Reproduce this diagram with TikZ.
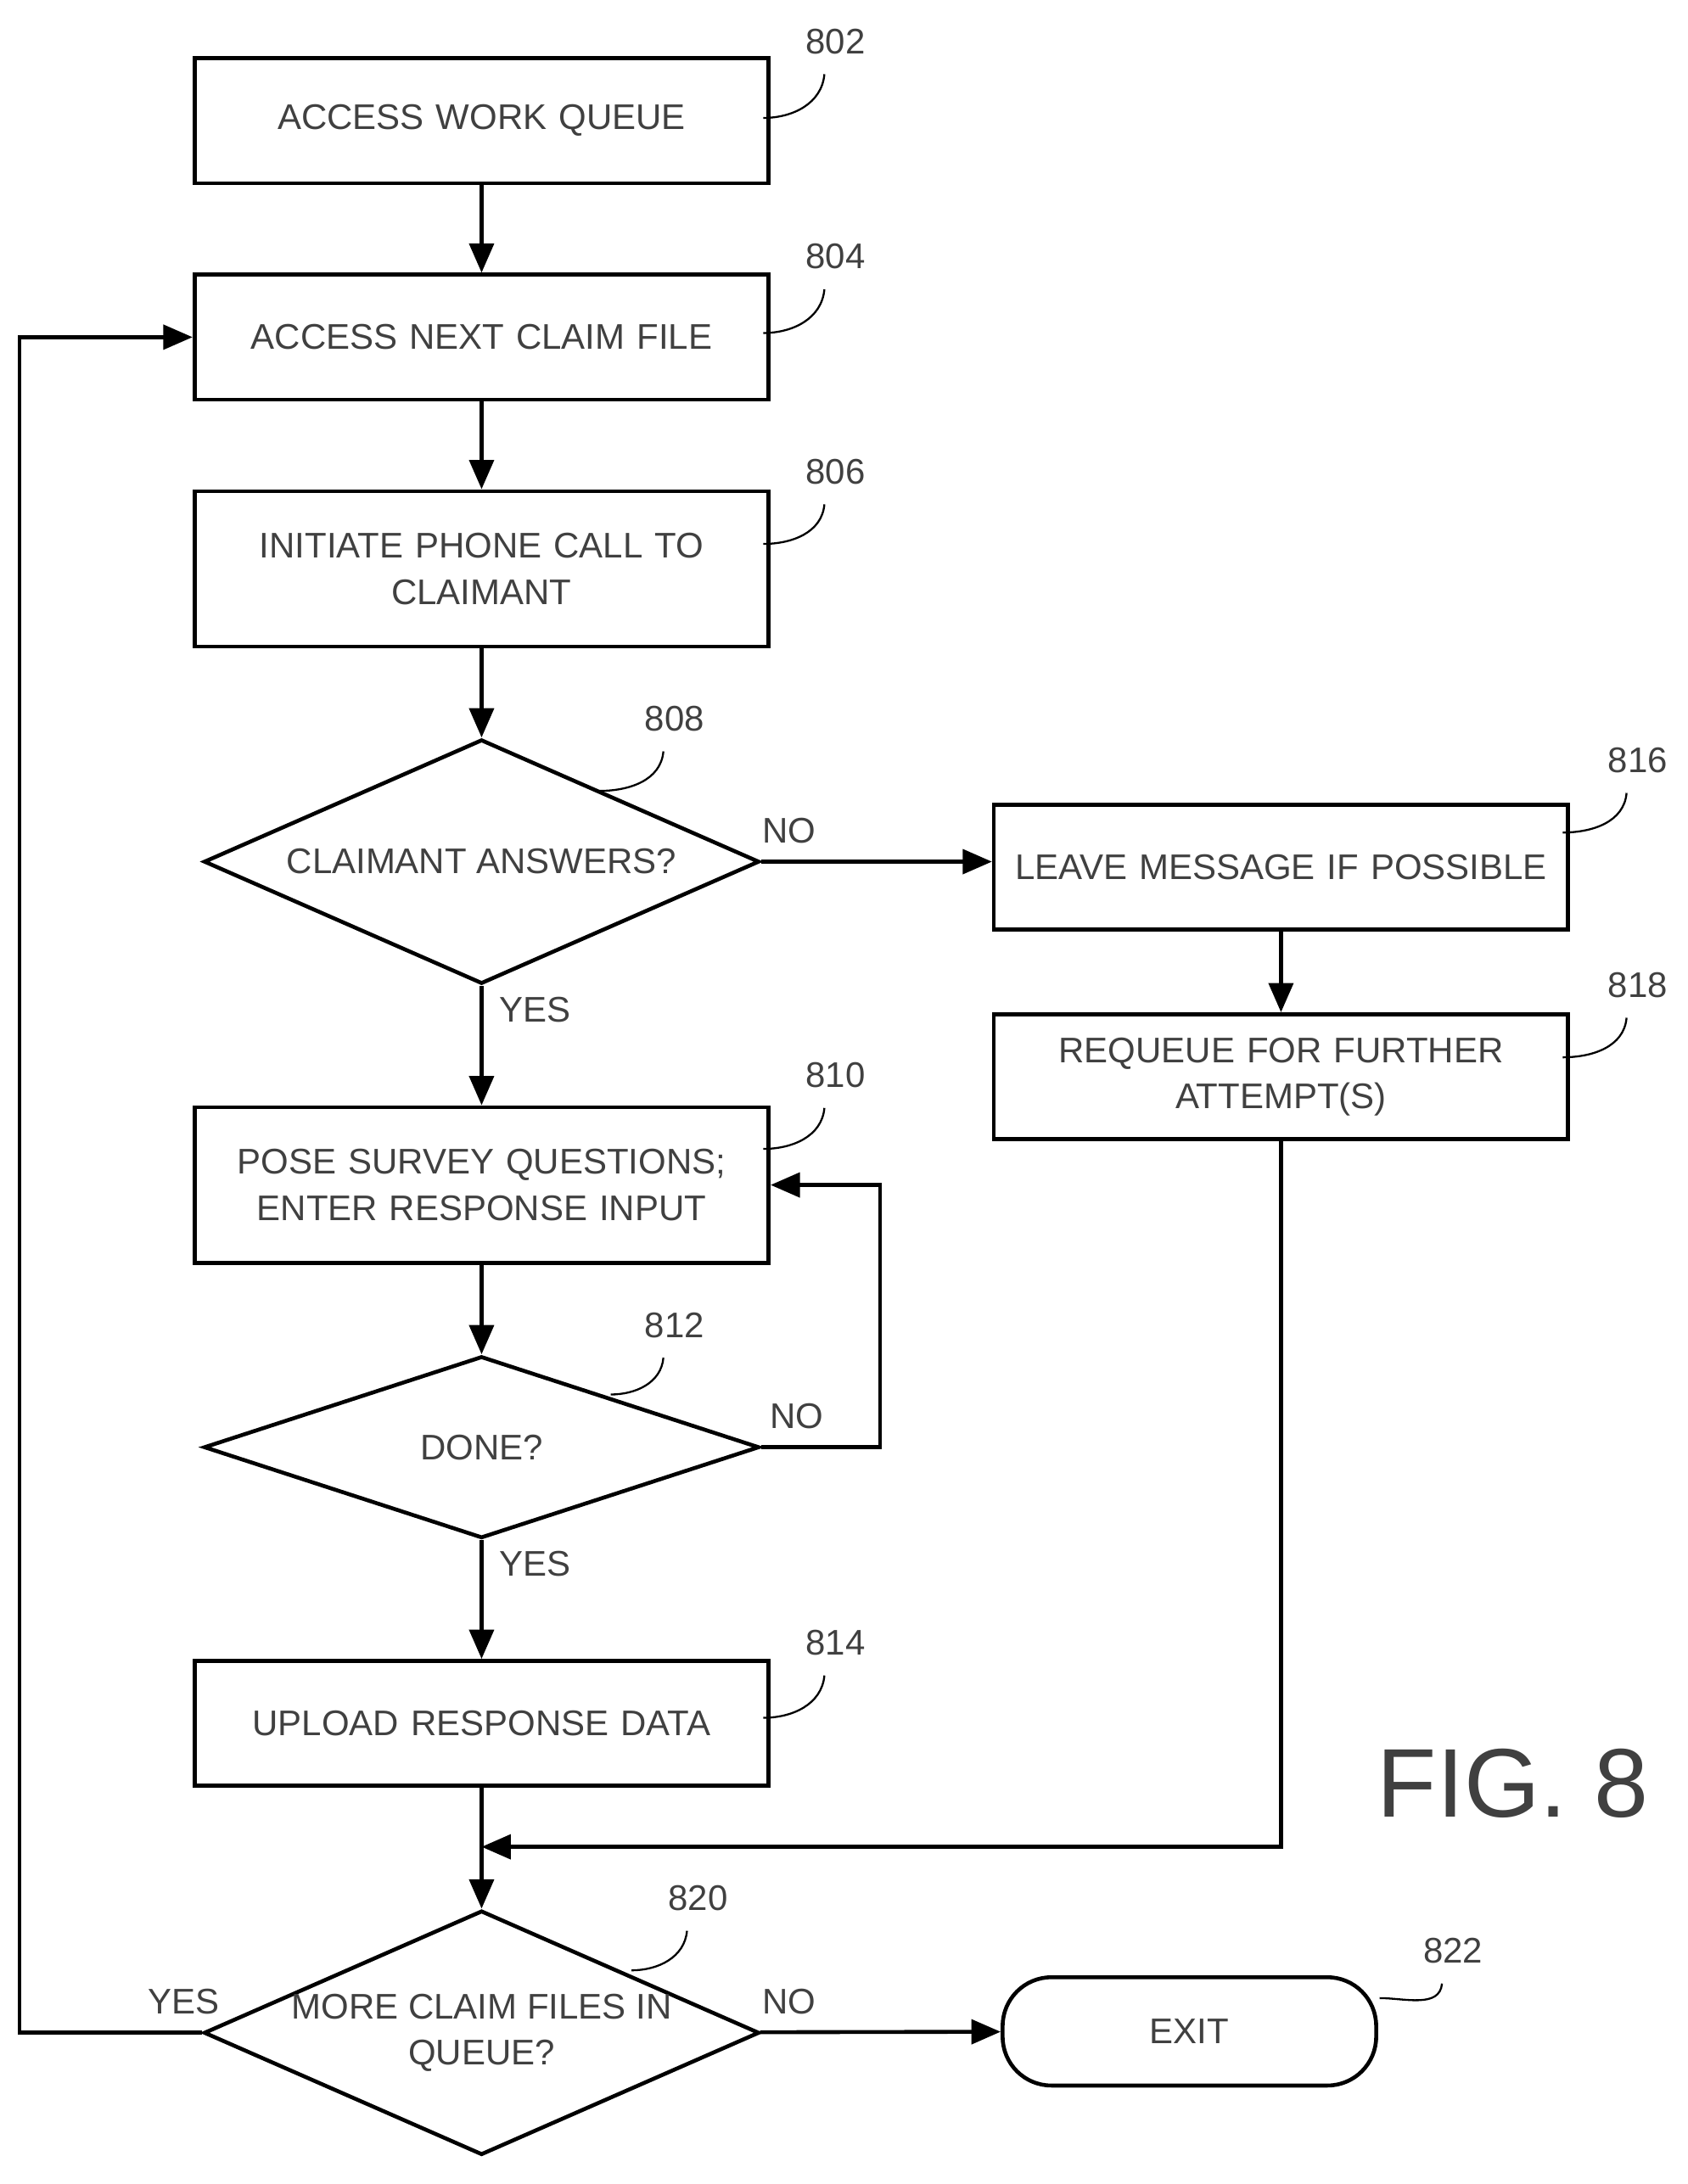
\documentclass[tikz,border=0pt]{standalone}
\usepackage{fontspec}
\setmainfont{Liberation Sans}
\usetikzlibrary{positioning,arrows.meta,shapes.geometric}
\begin{document}
\begin{tikzpicture}[x=0.01cm,y=-0.01cm,font=\fontsize{7.3}{9.5}\selectfont\color{black!75}]
		\tikzset{proc/.style = {draw,thick,minimum width=4.01cm,minimum height=0.9cm,align=center,text width=3.9cm}}
		\tikzset{dec/.style = {draw,thick,diamond,minimum width=4cm,minimum height=1.76cm,inner sep=0pt}}
		\tikzset{flow/.style = {-{Triangle[length=6pt,width=5pt]},thick}}
		\tikzset{lead/.style = {thin}}
		\useasboundingbox (0,0) rectangle (1216,1574);

		% boxes
		\node[proc] (b802) at (347,87){ACCESS WORK QUEUE};
		\node[proc] (b804) at (347,243){ACCESS NEXT CLAIM FILE};
		\node[proc,minimum height=1.12cm] (b806) at (347,410){INITIATE PHONE CALL TO\\CLAIMANT};
		\node[dec] (d808) at (347,621){};
		\node (t808) at (d808.center){CLAIMANT ANSWERS?};
		\node[proc] (b816) at (923,625){LEAVE MESSAGE IF POSSIBLE};
		\node[proc] (b818) at (923,776){REQUEUE FOR FURTHER\\ATTEMPT(S)};
		\node[proc,minimum height=1.12cm] (b810) at (347,854){POSE SURVEY QUESTIONS;\\ENTER RESPONSE INPUT};
		\node[dec,minimum height=1.31cm] (d812) at (347,1043){};
		\node (t812) at (d812.center){DONE?};
		\node[proc] (b814) at (347,1242){UPLOAD RESPONSE DATA};
		\node[dec] (d820) at (347,1465){};
		\node[align=center] (t820) at (d820.center){MORE CLAIM FILES IN\\QUEUE?};
		\node[draw,thick,rounded corners=10pt,minimum width=2.69cm,minimum height=0.78cm] (b822) at (857,1464){EXIT};
		\node[font=\fontsize{20}{22}\selectfont\color{black!75}] (fig) at (1090,1285){FIG. 8};

		% flow
		\draw[flow] (b802) -- (b804);
		\draw[flow] (b804) -- (b806);
		\draw[flow] (b806) -- (d808);
		\draw[flow] (d808.east) -- node[pos=0.12,above]{NO} (b816.west |- d808.east);
		\draw[flow] (d808) -- node[pos=0.2,right]{YES} (b810);
		\draw[flow] (b816) -- (b818);
		\draw[flow] (b810) -- (d812);
		\draw[flow] (d812.east) -- node[pos=0.3,above]{NO} (634,1043) |- (b810.east);
		\draw[flow] (d812) -- node[pos=0.2,right]{YES} (b814);
		\coordinate (m) at (347,1331);
		\draw[thick] (b814) -- (m);
		\draw[flow] (b818) |- (m);
		\draw[flow] (m) -- (d820);
		\draw[flow] (d820) -- node[pos=0.12,above]{NO} (b822);
		\draw[flow] (d820.west) -- node[pos=0.1,above]{YES} (14,1465) |- (b804.west);

		% reference numerals
		\foreach \n/\x/\y/\sx/\sy in {802/602/30/550/85, 804/602/185/550/240, 806/602/340/550/392, 810/602/775/550/828, 814/602/1184/550/1238, 816/1180/548/1126/600, 818/1180/710/1126/762, 822/1047/1406/994/1440, 808/486/518/432/570, 812/486/955/440/1005, 820/503/1368/455/1420}{
			\node (l\n) at (\x,\y){\n};
			\coordinate (s\n) at (\sx,\sy);
			\draw[lead] (s\n) to[out=0,in=-95] ([xshift=-0.08cm,yshift=-0.02cm]l\n.south);
		}
	\end{tikzpicture}
\end{document}
